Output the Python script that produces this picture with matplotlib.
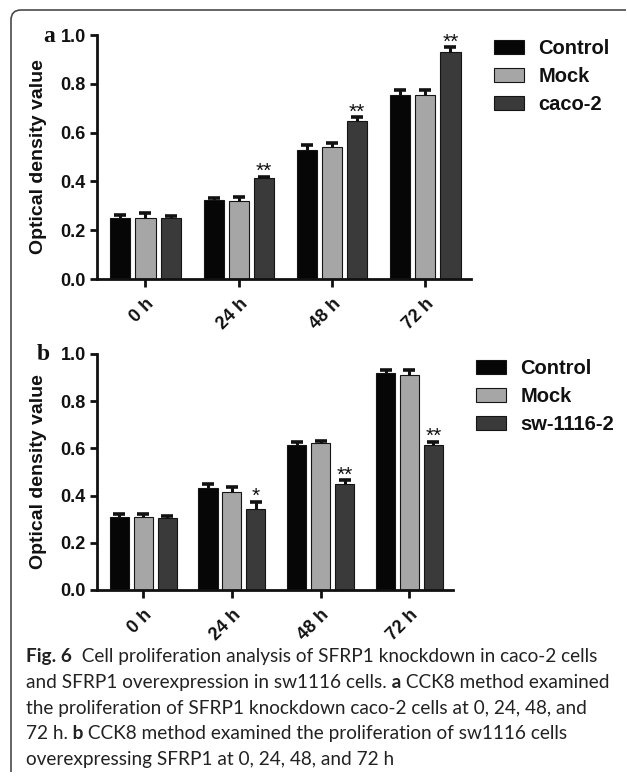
import numpy as np
import matplotlib
matplotlib.use("Agg")
import matplotlib.pyplot as plt
from matplotlib.path import Path
from matplotlib.patches import PathPatch

plt.rcParams['font.family'] = ['Liberation Sans', 'DejaVu Sans']

### data
times = ['0 h', '24 h', '48 h', '72 h']
groups_a = ['Control', 'Mock', 'caco-2']
groups_b = ['Control', 'Mock', 'sw-1116-2']

ctrl_a = [0.252, 0.322, 0.530, 0.756]
mock_a = [0.252, 0.318, 0.539, 0.753]
caco_a = [0.252, 0.413, 0.648, 0.930]
ctrl_a_err = [0.010, 0.008, 0.020, 0.020]
mock_a_err = [0.020, 0.020, 0.017, 0.020]
caco_a_err = [0.007, 0.007, 0.014, 0.020]
stars_a = ['', '**', '**', '**']

ctrl_b = [0.311, 0.431, 0.615, 0.919]
mock_b = [0.311, 0.417, 0.622, 0.912]
sw_b = [0.307, 0.344, 0.450, 0.615]
ctrl_b_err = [0.011, 0.020, 0.014, 0.014]
mock_b_err = [0.011, 0.020, 0.010, 0.020]
sw_b_err = [0.007, 0.030, 0.014, 0.014]
stars_b = ['', '*', '**', '**']

caption = [
    [("Fig. 6", 'bold'), ("  Cell proliferation analysis of SFRP1 knockdown in caco-2 cells", 'normal')],
    [("and SFRP1 overexpression in sw1116 cells.", 'normal'), (" a", 'bold'), (" CCK8 method examined", 'normal')],
    [("the proliferation of SFRP1 knockdown caco-2 cells at 0, 24, 48, and", 'normal')],
    [("72 h.", 'normal'), (" b", 'bold'), (" CCK8 method examined the proliferation of sw1116 cells", 'normal')],
    [("overexpressing SFRP1 at 0, 24, 48, and 72 h", 'normal')],
]

colors = ['#060606', '#a6a6a6', '#3a3a3a']
W, H = 627, 780


def fx(px):
    return px / W


def fy(py):
    return 1 - py / H


fig = plt.figure(figsize=(W / 100, H / 100), dpi=100)

# partial rounded frame (top + left)
r = 10
verts = [(fx(11), fy(772)), (fx(11), fy(10 + r)), (fx(11), fy(10)), (fx(11 + r), fy(10)), (fx(626), fy(10))]
codes = [Path.MOVETO, Path.LINETO, Path.CURVE3, Path.CURVE3, Path.LINETO]
fig.patches.append(PathPatch(Path(verts, codes), transform=fig.transFigure,
                             fill=False, edgecolor='#4a4a4a', linewidth=1.2))


def panel(rect, series, errs, names, stars, letter, legend_xy):
    ax = fig.add_axes(rect)
    x = np.arange(len(times))
    step, bw = 0.27, 0.215
    for i, (vals, err) in enumerate(zip(series, errs)):
        xs = x + (i - 1) * step
        ax.bar(xs, vals, width=bw, color=colors[i], edgecolor='#151515',
               linewidth=0.8, label=names[i], zorder=2)
        eb = ax.errorbar(xs, vals, yerr=[np.zeros(len(vals)), err], fmt='none',
                         ecolor='#111111', elinewidth=2.2, capsize=4, capthick=2.6, zorder=3)
        for cl in eb[1]:
            if np.allclose(cl.get_ydata(), vals):
                cl.set_visible(False)
    # significance marks over the third group
    xs3 = x + step
    for xi, v, e, s in zip(xs3, series[2], errs[2], stars):
        if s:
            ax.text(xi, v + e - 0.002, s, ha='center', va='baseline', fontsize=15, color='#111111')

    ax.set_xlim(-0.52, 3.49)
    ax.set_ylim(0, 1.0)
    ax.set_yticks([0, 0.2, 0.4, 0.6, 0.8, 1.0])
    ax.set_yticklabels(['0.0', '0.2', '0.4', '0.6', '0.8', '1.0'])
    ax.set_xticks(x)
    ax.set_xticklabels(times, rotation=45, ha='right', rotation_mode='anchor')
    for lab in ax.get_xticklabels() + ax.get_yticklabels():
        lab.set_fontweight('bold')
        lab.set_fontsize(13)
        lab.set_color('#111111')
    ax.tick_params(axis='both', width=2, length=5, color='#111111', pad=3)
    ax.tick_params(axis='x', length=6, pad=6)
    for sp in ['top', 'right']:
        ax.spines[sp].set_visible(False)
    for sp in ['left', 'bottom']:
        ax.spines[sp].set_linewidth(2)
        ax.spines[sp].set_color('#111111')
    ax.set_ylabel('Optical density value', fontsize=14, fontweight='bold', color='#111111')
    ax.yaxis.set_label_coords(-0.13, 0.5, transform=None)
    ax.yaxis.label.set_transform(fig.transFigure)
    ax.yaxis.label.set_position((fx(47), rect[1] + rect[3] / 2))

    fig.text(letter[1], letter[2], letter[0], family=['Liberation Serif', 'DejaVu Serif'],
             fontsize=17, fontweight='bold', ha='left', va='center', color='#111111')

    leg = ax.legend(loc='upper left', bbox_to_anchor=legend_xy, bbox_transform=fig.transFigure,
                    frameon=False, prop={'size': 14.5, 'weight': 'bold'}, handlelength=1.5,
                    handleheight=0.75, handletextpad=0.7, labelspacing=0.45,
                    borderpad=0, borderaxespad=0)
    for t in leg.get_texts():
        t.set_color('#111111')
    return ax


rect_a = [fx(97), fy(279), fx(471 - 97), (279 - 35) / H]
rect_b = [fx(97), fy(590), fx(453 - 97), (590 - 354) / H]

panel(rect_a, [ctrl_a, mock_a, caco_a], [ctrl_a_err, mock_a_err, caco_a_err],
      groups_a, stars_a, ('a', fx(43), fy(36)), (fx(494), fy(39)))
panel(rect_b, [ctrl_b, mock_b, sw_b], [ctrl_b_err, mock_b_err, sw_b_err],
      groups_b, stars_b, ('b', fx(37), fy(355)), (fx(476), fy(359)))

# caption, pieces laid out one after another
cap_font = ['Lato', 'DejaVu Sans']
fig.canvas.draw()
renderer = fig.canvas.get_renderer()


def piece_width(s, w, size):
    t = fig.text(0, 0, s, fontsize=size, fontweight=w, family=cap_font)
    wd = t.get_window_extent(renderer).width
    t.remove()
    return wd


ref_w = sum(piece_width(s, w, 10) for s, w in caption[1])
cap_size = 10 * (610 - 26) / ref_w

baselines = [662, 688, 714, 739, 765]
for line, yb in zip(caption, baselines):
    xpos = 26
    for s, w in line:
        t = fig.text(fx(xpos), fy(yb), s, fontsize=cap_size, fontweight=w,
                     family=cap_font, va='baseline', ha='left', color='#222222')
        xpos += t.get_window_extent(renderer).width

fig.savefig('out.png', dpi=100)
